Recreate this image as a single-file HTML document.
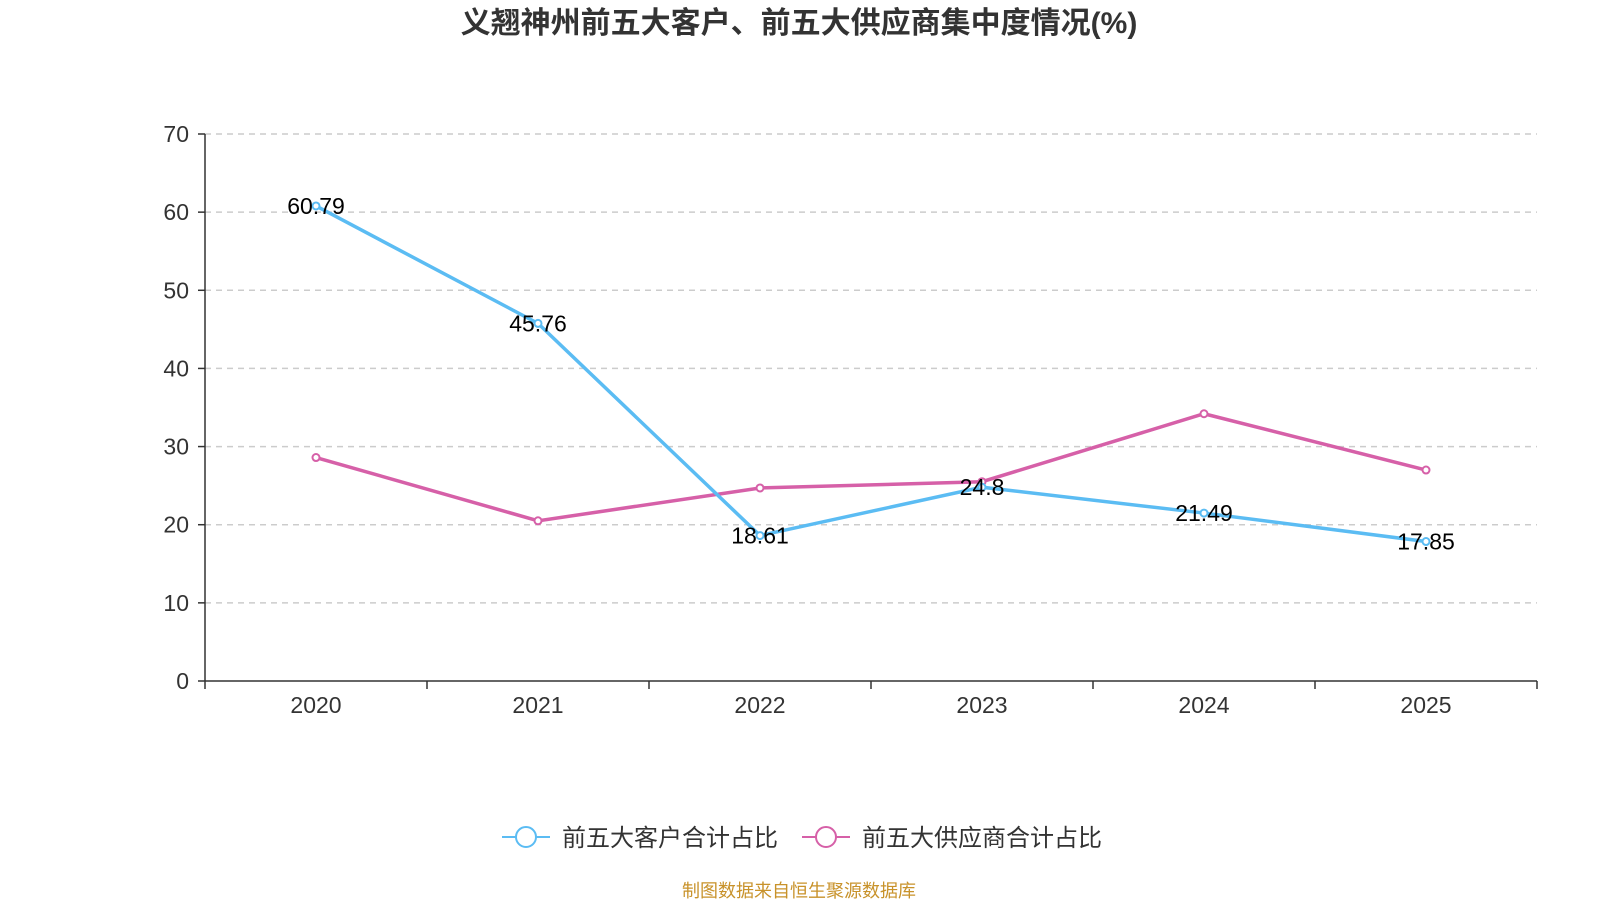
<!DOCTYPE html>
<html><head><meta charset="utf-8"><style>
body{margin:0;background:#fff;width:1600px;height:900px;overflow:hidden;font-family:"Liberation Sans","Noto Sans CJK SC",sans-serif}
</style></head><body>
<svg id="c" width="1600" height="900" xmlns="http://www.w3.org/2000/svg">
<text x="799" y="33" text-anchor="middle" font-size="30" font-weight="bold" fill="#333" font-family="Liberation Sans, Noto Sans CJK SC, sans-serif">义翘神州前五大客户、前五大供应商集中度情况(%)</text>
<g id="grid"></g><g id="axes"></g><g id="series"></g>
<g>
<line x1="502" y1="837" x2="550" y2="837" stroke="#5bbcf3" stroke-width="2"/>
<circle cx="526" cy="837" r="10" fill="#fff" stroke="#5bbcf3" stroke-width="2"/>
<text x="562" y="846" font-size="24" fill="#333">前五大客户合计占比</text>
<line x1="802" y1="837" x2="850" y2="837" stroke="#d660a8" stroke-width="2"/>
<circle cx="826" cy="837" r="10" fill="#fff" stroke="#d660a8" stroke-width="2"/>
<text x="862" y="846" font-size="24" fill="#333">前五大供应商合计占比</text>
</g>
<text x="799" y="897" text-anchor="middle" font-size="18" fill="#c8922a">制图数据来自恒生聚源数据库</text>
</svg>
<script>
const categories=["2020","2021","2022","2023","2024","2025"];
const customers=[60.79,45.76,18.61,24.8,21.49,17.85];
const suppliers=[28.6,20.5,24.7,25.5,34.2,27.0];
const yTicks=[0,10,20,30,40,50,60,70];
const NS="http://www.w3.org/2000/svg";
const L=205,R=1537,T=134,B=681,yMax=70;
const bw=(R-L)/categories.length;
const x=i=>L+bw*(i+0.5);
const y=v=>B-(B-T)*v/yMax;
function mk(p,tag,a,txt){const e=document.createElementNS(NS,tag);for(const k in a)e.setAttribute(k,a[k]);if(txt!=null)e.textContent=txt;document.getElementById(p).appendChild(e);return e;}
yTicks.forEach(t=>{
 if(t>0){const g=mk('grid','line',{x1:L,x2:R,y1:y(t),y2:y(t),stroke:'#ccc','stroke-dasharray':'6,5','stroke-width':1.5});
 
 }
 const tl=mk('axes','text',{x:L-16,y:y(t)+8,'text-anchor':'end','font-size':23,fill:'#333'},t);
 
 
 mk('axes','line',{x1:L-7,x2:L,y1:y(t),y2:y(t),stroke:'#333','stroke-width':1.5});
});
const ya=mk('axes','line',{x1:L,x2:L,y1:T,y2:B,stroke:'#333','stroke-width':1.5});


const xa=mk('axes','line',{x1:L,x2:R,y1:B,y2:B,stroke:'#333','stroke-width':1.5});


for(let i=0;i<=categories.length;i++)mk('axes','line',{x1:L+bw*i,x2:L+bw*i,y1:B,y2:B+8,stroke:'#333','stroke-width':1.5});
categories.forEach((c,i)=>{const t=mk('axes','text',{x:x(i),y:B+32,'text-anchor':'middle','font-size':23,fill:'#333'},c);
 
 });
function series(data,color,name,labels){
 const pl=mk('series','polyline',{points:data.map((v,i)=>x(i)+','+y(v)).join(' '),fill:'none',stroke:color,'stroke-width':3.5});
 
 
 data.forEach((v,i)=>{const c=mk('series','circle',{cx:x(i),cy:y(v),r:3.5,fill:'#fff',stroke:color,'stroke-width':2});
  
  
  if(labels){const t=mk('series','text',{x:x(i),y:y(v)+8,'text-anchor':'middle','font-size':23,fill:'#000'},String(v));
  
  }
 });
}
series(suppliers,'#d660a8','suppliers',false);
series(customers,'#5bbcf3','customers',true);
</script>
</body></html>
